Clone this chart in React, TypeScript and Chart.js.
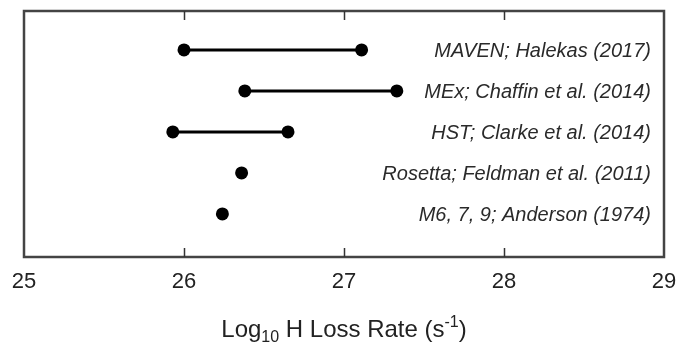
import { useEffect, useRef } from 'react';
import { Chart, registerables } from 'chart.js';

Chart.register(...registerables);

// Hydrogen loss rate estimates by mission / study (log10 of s^-1)
const sources = [
  'MAVEN; Halekas (2017)',
  'MEx; Chaffin et al. (2014)',
  'HST; Clarke et al. (2014)',
  'Rosetta; Feldman et al. (2011)',
  'M6, 7, 9; Anderson (1974)',
];
const rowPositions = [5, 4, 3, 2, 1];
const lowerRates = [26.0, 26.38, 25.93, 26.36, 26.24];
const upperRates: (number | null)[] = [27.11, 27.33, 26.65, null, null];
const xTicks = [25, 26, 27, 28, 29];

const FONT = '"Liberation Sans", Arial, Helvetica, sans-serif';

const frameAndLabels = {
  id: 'frameAndLabels',
  afterDatasetsDraw(chart: any) {
    const { ctx, chartArea, scales } = chart;
    const { left, right, top, bottom } = chartArea;
    const xs = scales.x;
    const ys = scales.y;
    ctx.save();

    // plot frame
    ctx.strokeStyle = '#444';
    ctx.lineWidth = 2.5;
    ctx.strokeRect(left, top, right - left, bottom - top);

    // inward tick marks on top and bottom edges
    ctx.strokeStyle = '#333';
    ctx.lineWidth = 1.5;
    xTicks.forEach((v) => {
      if (v === xs.min || v === xs.max) return;
      const px = Math.round(xs.getPixelForValue(v)) + 0.5;
      ctx.beginPath();
      ctx.moveTo(px, top);
      ctx.lineTo(px, top + 9);
      ctx.moveTo(px, bottom);
      ctx.lineTo(px, bottom - 9);
      ctx.stroke();
    });

    // study labels, right-aligned on each row
    ctx.font = `italic 20px ${FONT}`;
    ctx.fillStyle = '#2a2a2a';
    ctx.textAlign = 'right';
    ctx.textBaseline = 'alphabetic';
    sources.forEach((s, i) => {
      const py = ys.getPixelForValue(rowPositions[i]);
      ctx.fillText(s, right - 13, py + 7.5);
    });

    // axis title with subscript and superscript
    const big = `24px ${FONT}`;
    const small = `16px ${FONT}`;
    const parts = [
      { t: 'Log', f: big, dy: 0 },
      { t: '10', f: small, dy: 5 },
      { t: ' H Loss Rate (s', f: big, dy: 0 },
      { t: '-1', f: small, dy: -10 },
      { t: ')', f: big, dy: 0 },
    ];
    let total = 0;
    parts.forEach((p) => {
      ctx.font = p.f;
      total += ctx.measureText(p.t).width;
    });
    let x = (left + right) / 2 - total / 2;
    const baseY = 337;
    ctx.fillStyle = '#222';
    ctx.textAlign = 'left';
    parts.forEach((p) => {
      ctx.font = p.f;
      ctx.fillText(p.t, x, baseY + p.dy);
      x += ctx.measureText(p.t).width;
    });

    ctx.restore();
  },
};

export default function App() {
  const ref = useRef<HTMLCanvasElement | null>(null);

  useEffect(() => {
    document.body.style.margin = '0';
    const canvas = ref.current;
    if (!canvas) return;

    const datasets = sources.map((s, i) => {
      const pts = [{ x: lowerRates[i], y: rowPositions[i] }];
      const hi = upperRates[i];
      if (hi !== null) pts.push({ x: hi, y: rowPositions[i] });
      return {
        label: s,
        data: pts,
        showLine: true,
        borderColor: '#000',
        borderWidth: 3,
        backgroundColor: '#000',
        pointBackgroundColor: '#000',
        pointBorderColor: '#000',
        pointBorderWidth: 0,
        pointRadius: 6.5,
      };
    });

    const chart = new Chart(canvas, {
      type: 'scatter',
      data: { datasets },
      options: {
        animation: false,
        responsive: false,
        maintainAspectRatio: false,
        layout: { padding: { left: 24, right: 12, top: 11, bottom: 0 } },
        plugins: {
          legend: { display: false },
          tooltip: { enabled: false },
        },
        scales: {
          x: {
            type: 'linear',
            position: 'bottom',
            min: 25,
            max: 29,
            afterFit: (scale: any) => {
              scale.height = 86;
              scale.paddingLeft = 0;
              scale.paddingRight = 0;
            },
            afterBuildTicks: (scale: any) => {
              scale.ticks = xTicks.map((v) => ({ value: v }));
            },
            ticks: {
              padding: 12,
              color: '#222',
              font: { family: FONT, size: 22 },
              maxRotation: 0,
              autoSkip: false,
            },
            grid: { display: false, drawTicks: false },
            border: { display: false },
          },
          y: {
            type: 'linear',
            display: false,
            min: -0.05,
            max: 5.95,
          },
        },
      },
      plugins: [frameAndLabels],
    });

    return () => chart.destroy();
  }, []);

  return (
    <div style={{ width: 676, height: 343, background: '#fff' }}>
      <canvas ref={ref} width={676} height={343} />
    </div>
  );
}
